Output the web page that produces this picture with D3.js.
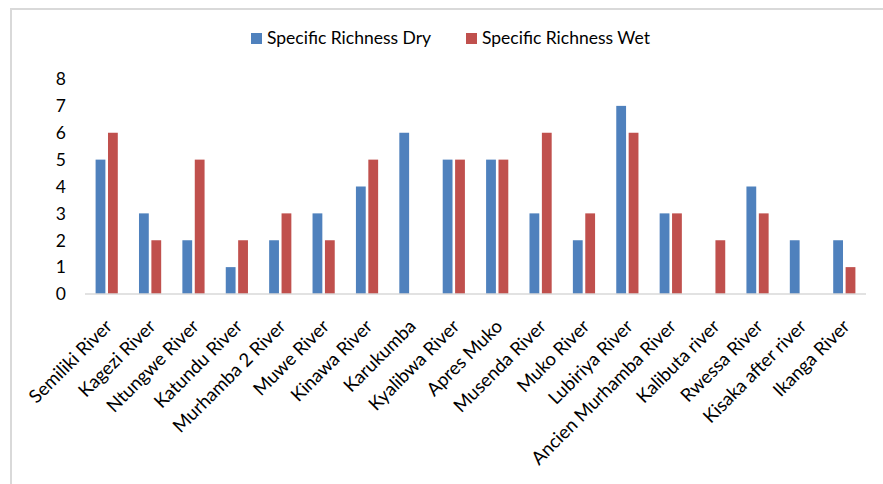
<!DOCTYPE html>
<html>
<head>
<meta charset="utf-8">
<script src="https://cdn.jsdelivr.net/npm/d3@7"></script>
<style>
  body { margin: 0; background: #fff; }
  svg { display: block; font-family: Lato, "Open Sans", sans-serif; }
</style>
</head>
<body>
<svg id="chart" width="883" height="484"></svg>
<script>
var rivers = ["Semiliki River", "Kagezi River", "Ntungwe River", "Katundu River", "Murhamba 2 River",
  "Muwe River", "Kinawa River", "Karukumba", "Kyalibwa River", "Apres Muko", "Musenda River",
  "Muko River", "Lubiriya River", "Ancien Murhamba River", "Kalibuta river", "Rwessa River",
  "Kisaka after river", "Ikanga River"];
var richnessDry = [5, 3, 2, 1, 2, 3, 4, 6, 5, 5, 3, 2, 7, 3, 0, 4, 2, 2];
var richnessWet = [6, 2, 5, 2, 3, 2, 5, 0, 5, 5, 6, 3, 6, 3, 2, 3, 0, 1];
var seriesNames = ["Specific Richness Dry", "Specific Richness Wet"];
var yTicks = [0, 1, 2, 3, 4, 5, 6, 7, 8];

var colors = ["#4F81BD", "#C0504D"];
var svg = d3.select("#chart");

// chart frame
svg.append("rect")
  .attr("x", 11).attr("y", 9).attr("width", 900).attr("height", 500)
  .attr("fill", "none").attr("stroke", "#d9d9d9").attr("stroke-width", 2);

var plotLeft = 85, plotRight = 866, plotTop = 79, plotBottom = 294;

var x = d3.scaleBand().domain(rivers).range([plotLeft, plotRight]);
var y = d3.scaleLinear().domain([0, 8]).range([plotBottom, plotTop]);

var barW = 9.8, gap = 2.6;

// y labels
svg.append("g").selectAll("text")
  .data(yTicks)
  .enter().append("text")
  .attr("x", 66)
  .attr("y", function(d) { return y(d); })
  .attr("dy", "0.36em")
  .attr("text-anchor", "end")
  .attr("font-size", 17.5)
  .attr("fill", "#000")
  .text(function(d) { return d; });

// bars
[richnessDry, richnessWet].forEach(function(vals, s) {
  svg.append("g").selectAll("rect")
    .data(vals)
    .enter().append("rect")
    .attr("x", function(d, i) {
      var c = x(rivers[i]) + x.bandwidth() / 2;
      return s == 0 ? c - gap / 2 - barW : c + gap / 2;
    })
    .attr("y", function(d) { return y(d); })
    .attr("width", barW)
    .attr("height", function(d) { return plotBottom - y(d); })
    .attr("fill", colors[s]);
});

// baseline
svg.append("line")
  .attr("x1", plotLeft).attr("x2", plotRight)
  .attr("y1", plotBottom).attr("y2", plotBottom)
  .attr("stroke", "#d9d9d9").attr("stroke-width", 1.5);

// x labels
svg.append("g").selectAll("text")
  .data(rivers)
  .enter().append("text")
  .attr("transform", function(d) {
    return "translate(" + (x(d) + x.bandwidth() / 2 + 2) + "," + 323 + ") rotate(-45)";
  })
  .attr("text-anchor", "end")
  .attr("dy", "0.35em")
  .attr("font-size", 18.5)
  .attr("fill", "#000")
  .text(function(d) { return d; });

// legend
var legendX = [251, 466];
seriesNames.forEach(function(name, s) {
  svg.append("rect")
    .attr("x", legendX[s]).attr("y", 33)
    .attr("width", 11).attr("height", 11)
    .attr("fill", colors[s]);
  svg.append("text")
    .attr("x", legendX[s] + 16).attr("y", 44)
    .attr("font-size", 17.5)
    .attr("fill", "#000")
    .text(name);
});
</script>
</body>
</html>
